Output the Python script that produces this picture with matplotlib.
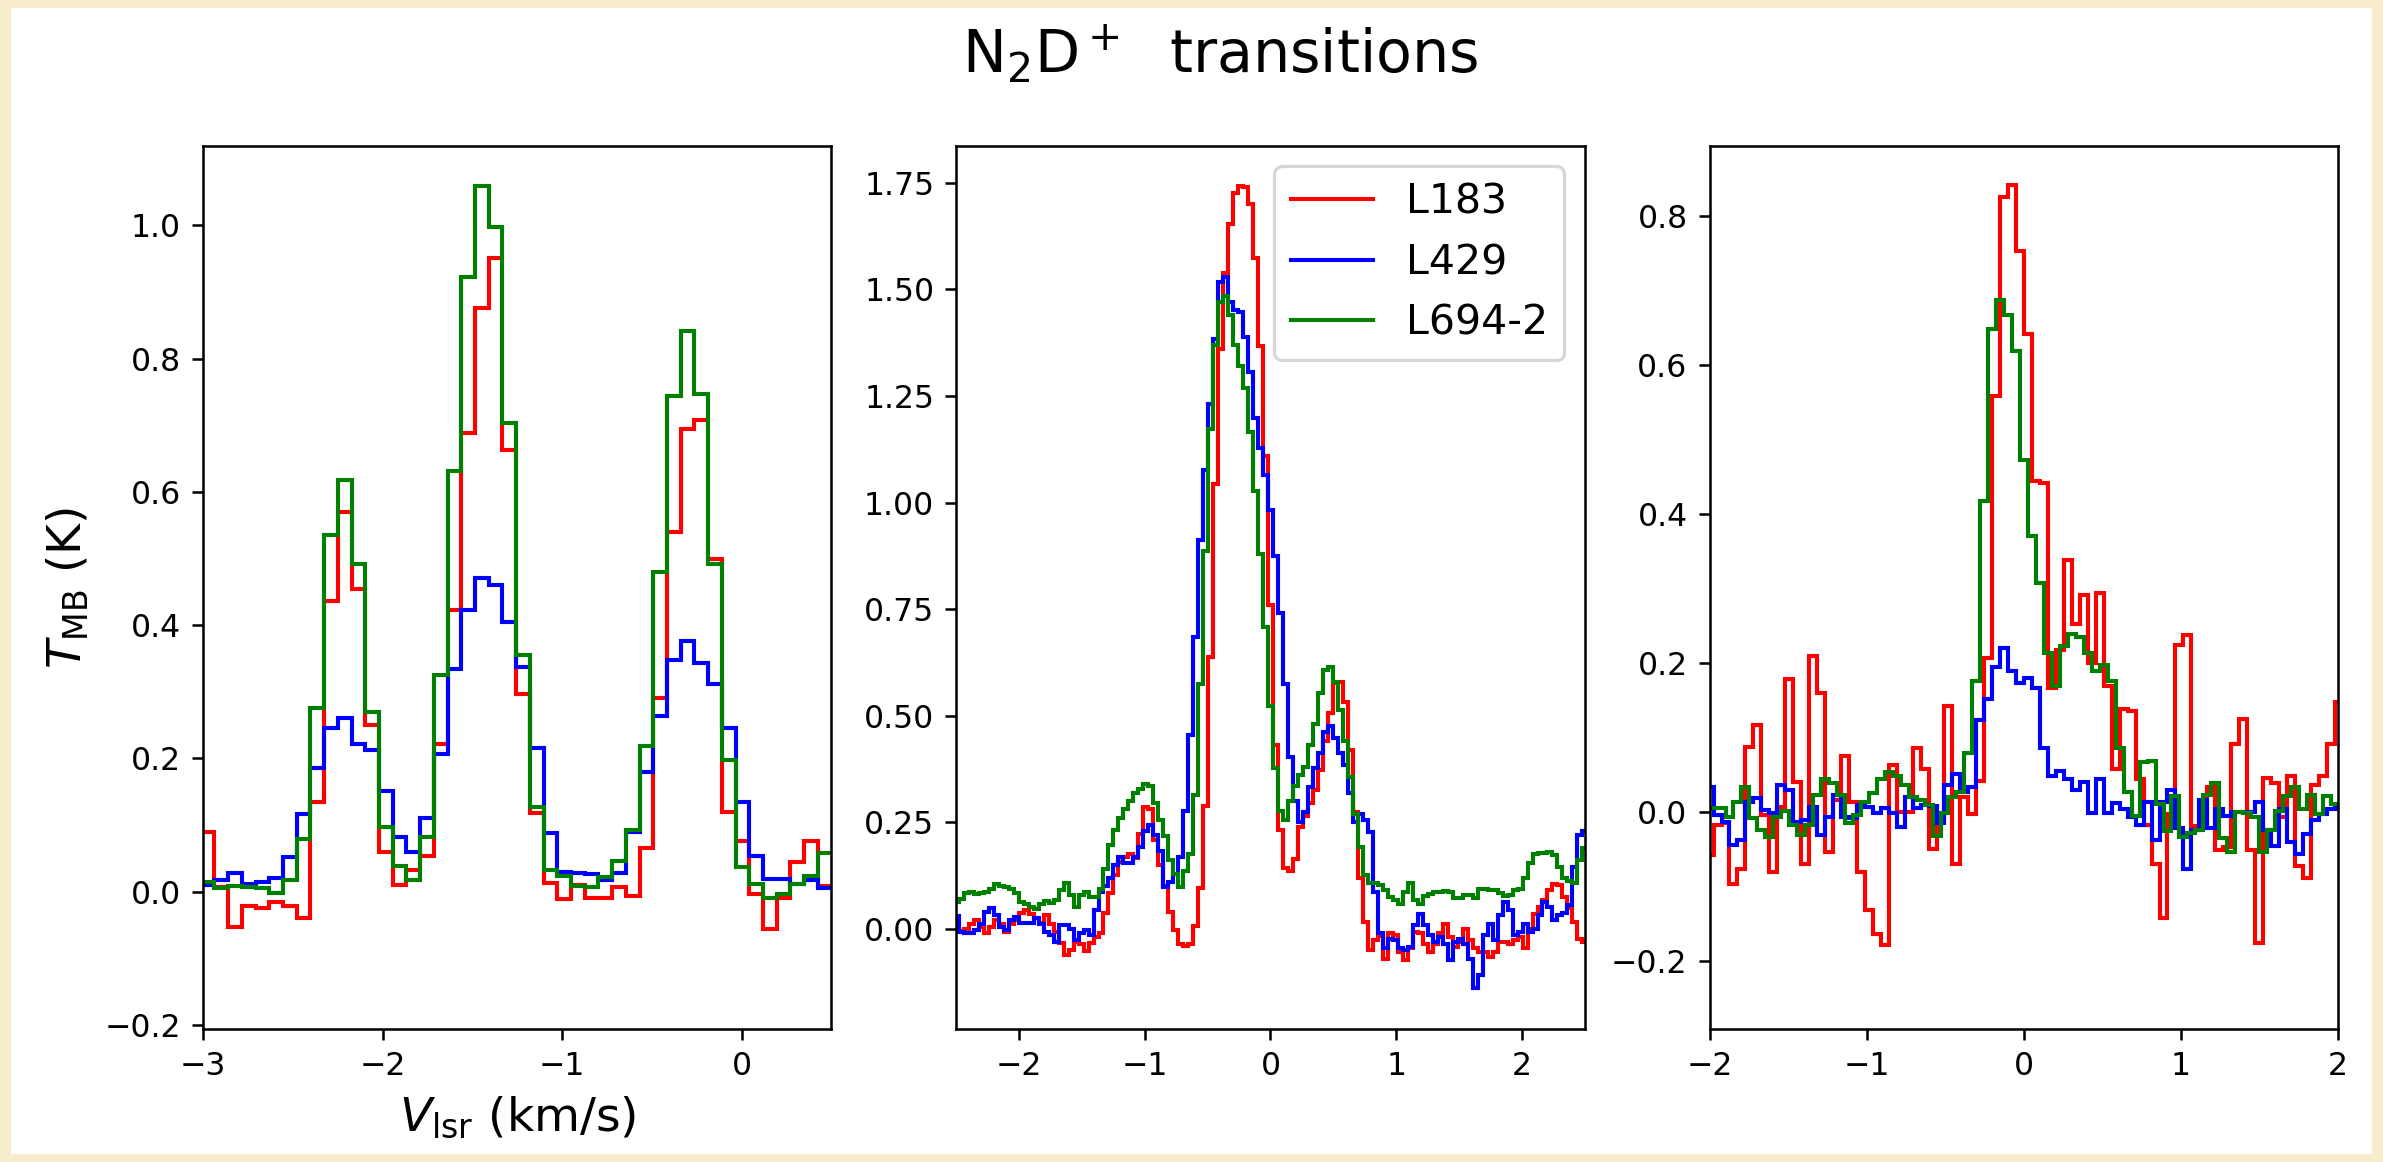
import numpy as np
import matplotlib
matplotlib.use("Agg")
import matplotlib.pyplot as plt
from matplotlib.patches import Rectangle

# ---- panel 1 : N2D+ (1-0), channel grid start / width (km/s)
p1_start, p1_width = -3.013, 0.0764
p1_l183 = [0.089, 0.007, -0.053, -0.022, -0.024, -0.015, -0.022, -0.040, 0.135, 0.436,
           0.570, 0.454, 0.250, 0.060, 0.010, 0.032, 0.053, 0.221, 0.422, 0.688,
           0.876, 0.951, 0.663, 0.297, 0.118, 0.013, -0.011, 0.010, -0.010, -0.009,
           0.007, -0.007, 0.065, 0.291, 0.540, 0.694, 0.708, 0.499, 0.120, 0.076,
           -0.004, -0.056, -0.010, 0.045, 0.076, 0.009]
p1_l429 = [0.010, 0.017, 0.028, 0.011, 0.015, 0.020, 0.052, 0.116, 0.185, 0.245,
           0.260, 0.221, 0.213, 0.151, 0.082, 0.059, 0.110, 0.207, 0.334, 0.422,
           0.471, 0.460, 0.404, 0.337, 0.215, 0.088, 0.030, 0.028, 0.026, 0.017,
           0.028, 0.090, 0.179, 0.264, 0.347, 0.376, 0.343, 0.312, 0.245, 0.135,
           0.053, 0.019, 0.019, 0.011, 0.017, 0.006]
p1_l694 = [0.015, 0.006, 0.009, 0.007, 0.006, -0.002, 0.017, 0.079, 0.275, 0.535,
           0.617, 0.491, 0.269, 0.097, 0.039, 0.017, 0.082, 0.325, 0.631, 0.923,
           1.059, 0.997, 0.703, 0.355, 0.127, 0.032, 0.023, 0.009, 0.007, 0.022,
           0.046, 0.093, 0.219, 0.480, 0.744, 0.842, 0.747, 0.491, 0.198, 0.037,
           0.011, -0.009, -0.004, 0.011, 0.024, 0.058]

# ---- panel 2 : N2D+ (2-1)
p2_start, p2_width = -2.52, 0.0397
p2_l183 = [0.013, -0.004, 0.000, 0.013, 0.021, 0.005, -0.010, 0.005, 0.021, 0.013,
           -0.006, 0.013, 0.021, 0.037, 0.046, 0.035, 0.027, 0.015, 0.033, 0.012,
           -0.006, -0.032, -0.061, -0.048, -0.030, -0.035, -0.051, -0.032, -0.018, -0.010,
           0.037, 0.084, 0.127, 0.158, 0.168, 0.176, 0.166, 0.224, 0.287, 0.281,
           0.210, 0.150, 0.100, 0.041, -0.003, -0.035, -0.039, -0.035, 0.007, 0.096,
           0.289, 0.639, 1.043, 1.360, 1.537, 1.652, 1.726, 1.741, 1.739, 1.700,
           1.573, 1.367, 1.109, 0.759, 0.431, 0.232, 0.143, 0.137, 0.165, 0.240,
           0.265, 0.295, 0.326, 0.373, 0.440, 0.506, 0.576, 0.580, 0.533, 0.420,
           0.275, 0.119, 0.017, -0.049, -0.026, -0.016, -0.069, -0.010, -0.014, -0.053,
           -0.073, -0.045, -0.006, -0.008, -0.035, -0.053, -0.034, -0.010, 0.013, -0.018,
           -0.041, -0.030, 0.000, -0.026, -0.045, -0.053, -0.053, -0.065, -0.053, -0.030,
           -0.030, -0.034, -0.026, -0.018, -0.045, 0.000, 0.035, 0.052, 0.068, 0.091,
           0.105, 0.103, 0.076, 0.049, 0.017, -0.022, -0.030]
p2_l429 = [0.030, -0.006, -0.010, -0.010, -0.002, 0.013, 0.041, 0.049, 0.033, 0.005,
           -0.002, 0.021, 0.029, 0.015, 0.015, 0.015, 0.027, 0.013, -0.006, -0.014,
           -0.030, 0.009, 0.009, 0.001, -0.026, -0.010, -0.002, -0.014, 0.045, 0.088,
           0.101, 0.119, 0.150, 0.168, 0.156, 0.154, 0.170, 0.193, 0.231, 0.244,
           0.220, 0.184, 0.098, 0.111, 0.130, 0.168, 0.276, 0.454, 0.684, 0.912,
           1.077, 1.230, 1.383, 1.516, 1.529, 1.471, 1.452, 1.446, 1.389, 1.306,
           1.198, 1.128, 1.065, 0.982, 0.874, 0.740, 0.575, 0.403, 0.300, 0.252,
           0.275, 0.334, 0.377, 0.414, 0.461, 0.477, 0.447, 0.412, 0.385, 0.318,
           0.252, 0.271, 0.256, 0.228, 0.088, -0.010, -0.045, -0.022, -0.026, -0.045,
           -0.049, -0.041, 0.009, 0.035, 0.009, -0.014, -0.030, -0.018, -0.034, -0.073,
           -0.030, -0.022, -0.034, -0.069, -0.139, -0.108, -0.014, 0.013, -0.026, 0.033,
           0.064, 0.045, -0.014, -0.006, 0.013, -0.006, 0.001, 0.033, 0.064, 0.052,
           0.021, 0.033, 0.038, 0.056, 0.146, 0.220, 0.230]
p2_l694 = [0.064, 0.070, 0.084, 0.088, 0.082, 0.084, 0.088, 0.095, 0.106, 0.101,
           0.098, 0.095, 0.084, 0.064, 0.059, 0.052, 0.048, 0.060, 0.066, 0.062,
           0.068, 0.091, 0.107, 0.080, 0.052, 0.080, 0.088, 0.076, 0.076, 0.095,
           0.142, 0.197, 0.232, 0.260, 0.281, 0.301, 0.318, 0.328, 0.340, 0.336,
           0.295, 0.257, 0.219, 0.162, 0.130, 0.098, 0.136, 0.175, 0.314, 0.575,
           0.886, 1.172, 1.370, 1.471, 1.484, 1.439, 1.370, 1.319, 1.268, 1.166,
           1.026, 0.880, 0.708, 0.524, 0.377, 0.276, 0.257, 0.300, 0.335, 0.361,
           0.381, 0.432, 0.482, 0.553, 0.608, 0.615, 0.580, 0.514, 0.440, 0.357,
           0.271, 0.193, 0.127, 0.107, 0.107, 0.103, 0.091, 0.076, 0.068, 0.060,
           0.088, 0.109, 0.068, 0.058, 0.077, 0.083, 0.086, 0.088, 0.090, 0.088,
           0.074, 0.072, 0.080, 0.080, 0.074, 0.093, 0.095, 0.092, 0.092, 0.084,
           0.077, 0.080, 0.092, 0.095, 0.119, 0.154, 0.176, 0.179, 0.179, 0.181,
           0.174, 0.145, 0.119, 0.113, 0.109, 0.162, 0.190]

# ---- panel 3 : N2D+ (3-2), L694-2 sits on a half-channel shifted grid
p3_start, p3_width = -2.026, 0.0507
p3_start_l694 = -2.0006
p3_l183 = [-0.058, -0.017, -0.015, -0.096, -0.077, 0.088, 0.117, -0.004, -0.080, 0.007,
           0.178, 0.041, -0.069, 0.209, 0.160, -0.053, 0.016, 0.075, 0.014, -0.080,
           -0.132, -0.163, -0.179, 0.063, 0.000, 0.000, 0.086, 0.058, -0.050, -0.010,
           0.143, -0.070, 0.020, -0.002, 0.042, 0.207, 0.558, 0.826, 0.841, 0.753,
           0.642, 0.444, 0.442, 0.166, 0.218, 0.339, 0.252, 0.291, 0.200, 0.294,
           0.169, 0.058, 0.138, 0.136, 0.044, -0.017, -0.070, -0.142, -0.003, 0.224,
           0.238, -0.019, -0.021, 0.034, -0.051, -0.047, 0.092, 0.125, -0.051, -0.176,
           0.046, 0.039, -0.007, 0.048, -0.072, -0.088, 0.037, 0.048, 0.092, 0.148]
p3_l429 = [0.034, -0.004, -0.013, -0.044, -0.037, 0.014, 0.019, 0.003, -0.001, 0.036,
           0.030, -0.013, -0.011, 0.007, -0.031, -0.006, 0.023, -0.006, -0.008, 0.010,
           0.007, -0.001, 0.005, -0.001, -0.020, 0.020, 0.006, 0.010, 0.008, -0.015,
           0.037, 0.051, 0.027, 0.034, 0.124, 0.152, 0.195, 0.220, 0.190, 0.173,
           0.180, 0.166, 0.086, 0.048, 0.055, 0.044, 0.030, 0.041, -0.001, 0.044,
           -0.001, 0.012, 0.004, -0.007, -0.017, 0.013, -0.038, 0.013, 0.030, -0.021,
           -0.077, -0.024, 0.016, -0.021, 0.004, -0.005, 0.000, 0.000, 0.000, 0.013,
           -0.024, -0.045, 0.004, -0.040, -0.056, -0.030, -0.010, -0.003, 0.004, 0.006]
p3_l694 = [0.005, 0.005, -0.006, 0.014, 0.034, -0.008, -0.024, -0.033, -0.006, 0.001,
           -0.017, -0.031, -0.017, 0.023, 0.045, 0.039, 0.023, -0.015, -0.004, 0.014,
           0.025, 0.045, 0.054, 0.048, 0.036, 0.020, 0.016, 0.010, -0.032, -0.001,
           0.020, 0.027, 0.079, 0.176, 0.417, 0.648, 0.687, 0.667, 0.619, 0.473,
           0.371, 0.308, 0.214, 0.169, 0.223, 0.239, 0.235, 0.214, 0.190, 0.197,
           0.176, 0.086, 0.027, -0.005, 0.067, 0.068, 0.011, -0.026, 0.021, -0.033,
           -0.028, -0.024, 0.023, 0.039, -0.035, -0.054, 0.000, -0.001, -0.007, -0.054,
           -0.024, 0.002, 0.021, 0.034, 0.004, 0.023, -0.003, 0.021, 0.011]

sources = ["L183", "L429", "L694-2"]
colors = ["red", "blue", "green"]


def edges(start, width, vals):
    return start + width * np.arange(len(vals) + 1)


W, H, DPI = 2383, 1162, 227
fig, axes = plt.subplots(1, 3, figsize=(W / DPI, H / DPI), dpi=DPI)
fig.patch.set_facecolor("#f7edcc")
fig.add_artist(Rectangle((11 / W, 8 / H), 1 - 22 / W, 1 - 16 / H,
                         transform=fig.transFigure, facecolor="white",
                         edgecolor="none", zorder=-5))
fig.subplots_adjust(left=0.0852, right=0.9811, bottom=0.1145, top=0.8744, wspace=0.199)

panels = [
    (p1_start, p1_width, p1_start, [p1_l183, p1_l429, p1_l694], (-3, 0.5), (-0.206, 1.119)),
    (p2_start, p2_width, p2_start, [p2_l183, p2_l429, p2_l694], (-2.5, 2.5), (-0.234, 1.836)),
    (p3_start, p3_width, p3_start_l694, [p3_l183, p3_l429, p3_l694], (-2, 2), (-0.291, 0.894)),
]

for ax, (start, width, start_g, spectra, xlim, ylim) in zip(axes, panels):
    for i, (vals, name, c) in enumerate(zip(spectra, sources, colors)):
        s = start_g if i == 2 else start
        ax.stairs(vals, edges(s, width, vals), baseline=None, color=c, lw=1.3, label=name)
    ax.set_xlim(*xlim)
    ax.set_ylim(*ylim)

axes[1].legend(loc="upper right", fontsize=13)
axes[0].set_ylabel(r"$T_{\rm MB}$ (K)", fontsize=15)
axes[0].set_xlabel(r"$V_{\rm lsr}$ (km/s)", fontsize=15)
fig.suptitle(r"N$_2$D$^+$  transitions", fontsize=18.6, x=0.512)

fig.savefig("out.png", dpi=DPI)
